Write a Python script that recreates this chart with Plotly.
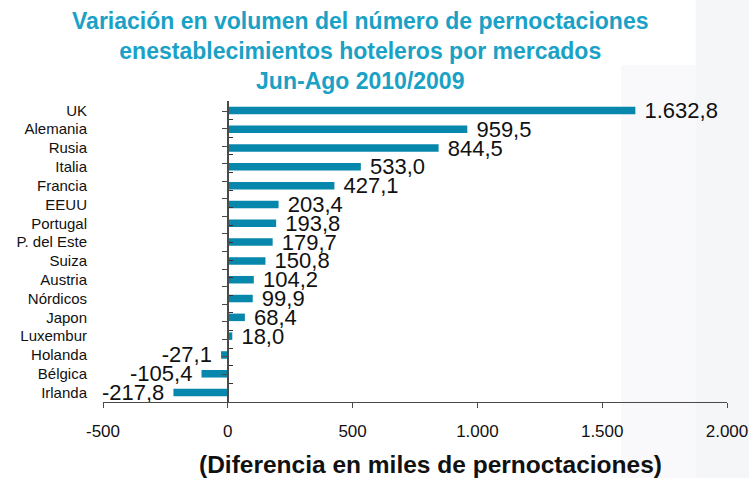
import plotly.graph_objects as go

markets = ["UK", "Alemania", "Rusia", "Italia", "Francia", "EEUU", "Portugal",
           "P. del Este", "Suiza", "Austria", "Nórdicos", "Japon", "Luxembur",
           "Holanda", "Bélgica", "Irlanda"]
values = [1632.8, 959.5, 844.5, 533.0, 427.1, 203.4, 193.8, 179.7, 150.8,
          104.2, 99.9, 68.4, 18.0, -27.1, -105.4, -217.8]
tick_vals = [-500, 0, 500, 1000, 1500, 2000]
tick_labels = ["-500", "0", "500", "1.000", "1.500", "2.000"]

title_lines = ["Variación en volumen del número de pernoctaciones",
               "enestablecimientos hoteleros por mercados",
               "Jun-Ago 2010/2009"]
x_title = "(Diferencia en miles de pernoctaciones)"


def fmt(v):
    s = f"{v:,.1f}"
    return s.replace(",", "X").replace(".", ",").replace("X", ".")


labels = [(" " + fmt(v)) if v >= 0 else (fmt(v) + " ") for v in values]

BAR = "#0787ab"
AXIS = "#4a4a4a"
FONT = "Liberation Sans, Arial"

fig = go.Figure()
fig.add_trace(go.Bar(
    y=markets, x=values, orientation="h",
    marker=dict(color=BAR, line=dict(width=0)),
    width=0.4,
    text=labels, textposition="outside", cliponaxis=False, constraintext="none",
    textfont=dict(family=FONT, size=22, color="#111111"),
    hoverinfo="skip", showlegend=False,
))
# invisible traces carrying the axes drawn at x = 0
fig.add_trace(go.Scatter(
    y=markets, x=values, yaxis="y2", mode="markers",
    marker=dict(opacity=0), hoverinfo="skip", showlegend=False,
))
fig.add_trace(go.Scatter(
    y=markets, x=values, yaxis="y3", mode="markers",
    marker=dict(opacity=0), hoverinfo="skip", showlegend=False,
))

axis_common = dict(
    categoryorder="array", categoryarray=markets, autorange="reversed",
    showgrid=False, zeroline=False, automargin=False,
)

fig.update_layout(
    width=749, height=478,
    margin=dict(l=103, r=22, t=101, b=76, autoexpand=False),
    paper_bgcolor="white",
    plot_bgcolor="rgba(0,0,0,0)",
    font=dict(family=FONT, color="#111111"),
    title=dict(
        text="<br>".join(title_lines),
        x=0.481, xanchor="center", xref="container",
        y=0.939, yanchor="top", yref="container",
        font=dict(family=FONT, size=23, color="#19a1c6", weight="bold"),
    ),
    xaxis=dict(
        range=[-500, 2000], tickvals=tick_vals, ticktext=tick_labels,
        showgrid=False, zeroline=False, showline=True, linecolor=AXIS, linewidth=1.3,
        ticks="outside", ticklen=5, tickcolor=AXIS, tickwidth=1.3,
        tickfont=dict(size=17, color="#111111"), automargin=False,
        ticklabelstandoff=8,
    ),
    yaxis=dict(
        **axis_common, showline=False, ticks="",
        tickfont=dict(size=15, color="#111111"), ticklabelstandoff=15,
    ),
    yaxis2=dict(
        **axis_common, overlaying="y", anchor="free", position=0.2,
        showline=True, linecolor=AXIS, linewidth=1.5,
        ticks="outside", ticklen=5, tickcolor=AXIS, tickwidth=1.3, tickson="boundaries",
        showticklabels=False,
    ),
    yaxis3=dict(
        **axis_common, overlaying="y", anchor="free", position=0.2,
        showline=False, ticks="inside", ticklen=4, tickcolor="#333333", tickwidth=1.2,
        showticklabels=False,
    ),
    annotations=[
        dict(text=x_title, xref="paper", yref="paper", x=0.5256, y=-0.209,
             xanchor="center", yanchor="middle", showarrow=False,
             font=dict(family=FONT, size=24.5, color="#111111", weight="bold")),
    ],
    shapes=[
        dict(type="rect", xref="paper", yref="paper", x0=0.83, x1=1.04, y0=-0.3, y1=1.12,
             fillcolor="#f9f9fb", line=dict(width=0), layer="below"),
        dict(type="rect", xref="paper", yref="paper", x0=0.95, x1=1.04, y0=-0.3, y1=1.35,
             fillcolor="#f5f6f8", line=dict(width=0), layer="below"),
    ],
)

fig.write_html(
    "out.html",
    config={"displayModeBar": False},
    post_script="document.body.style.margin='0';document.body.style.overflow='hidden';",
)
